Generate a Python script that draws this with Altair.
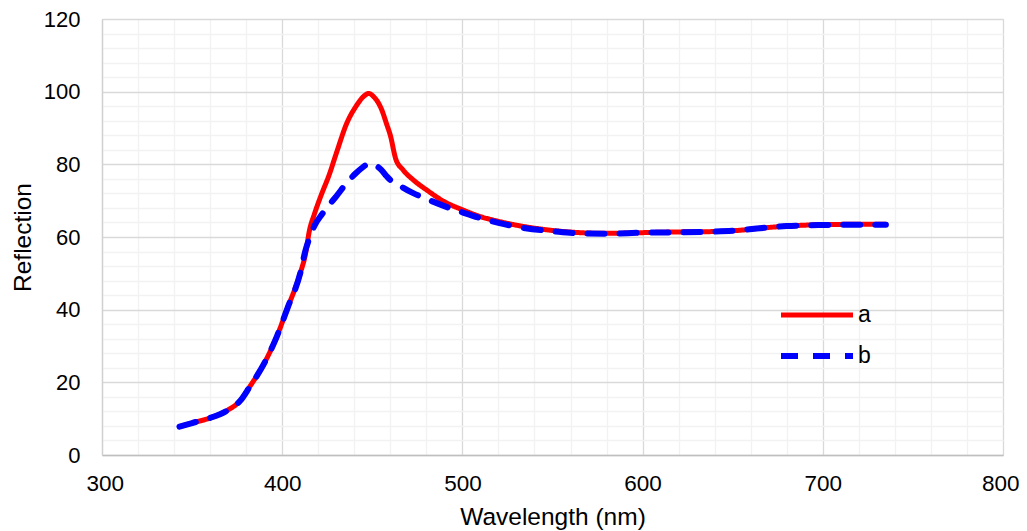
import altair as alt
import pandas as pd

wavelength = [343, 350, 360, 370, 377, 382, 390, 397, 403, 410,
              413, 415, 418, 422, 426, 430, 436, 441, 445, 448,
              451, 455, 458, 460, 463, 467, 473, 480, 490, 500,
              510, 520, 535, 550, 565, 580, 600, 620, 640, 655,
              665, 680, 700, 720, 735]
series_a = [7.8, 8.8, 10.2, 12.4, 15.1, 18.8, 25.2, 32.6, 40.5, 50,
            55.5, 61.5, 66.5, 72, 77, 83, 91.5, 96, 98.6, 99.5,
            98.5, 95.3, 91, 88, 81.5, 78.5, 75.6, 73, 69.7, 67.5,
            65.6, 64.3, 62.8, 61.8, 61.2, 61.0, 61.2, 61.4, 61.5, 61.9,
            62.4, 63.0, 63.4, 63.5, 63.5]
series_b = [7.8, 8.8, 10.2, 12.4, 15.1, 18.8, 25.2, 32.6, 40.5, 50,
            56.5, 59.5, 63.2, 66.2, 68.8, 71.2, 75, 77.6, 79.3, 80.2,
            79.9, 78.5, 76.7, 75.7, 74.9, 73.6, 72, 70.5, 68.5, 66.8,
            65.2, 63.9, 62.4, 61.6, 61.0, 60.9, 61.2, 61.3, 61.5, 61.9,
            62.4, 63.0, 63.3, 63.4, 63.4]
series_names = ["a", "b"]
series_colors = ["#ff0000", "#0000ff"]

rows = []
for name, vals in zip(series_names, [series_a, series_b]):
    for w, v in zip(wavelength, vals):
        rows.append({"wavelength": w, "reflection": v, "series": name})
df = pd.DataFrame(rows)

FONT = "Liberation Sans"

x_axis = alt.Axis(
    values=list(range(300, 801, 20)),
    labelExpr="datum.value % 100 === 0 ? datum.label : ''",
    gridColor={"condition": {"test": "datum.value % 100 === 0", "value": "#d9d9d9"}, "value": "#f2f2f2"},
    gridWidth=1.3,
    ticks=False, tickSize=0,
    labelFlush=True, labelFlushOffset=16, labelOverlap=False, labelBound=False,
    labelFontSize=22.5, labelFont=FONT, labelColor="#000000", labelPadding=17,
    titleFontSize=24.5, titleFont=FONT, titleColor="#000000", titleFontWeight="normal", titlePadding=11,
    domainColor="#bfbfbf", domainWidth=1.5,
)
y_axis = alt.Axis(
    values=list(range(0, 121, 4)),
    labelExpr="datum.value % 20 === 0 ? datum.label : ''",
    gridColor={"condition": {"test": "datum.value % 20 === 0", "value": "#d9d9d9"}, "value": "#f2f2f2"},
    gridWidth=1.3,
    ticks=False, tickSize=0,
    labelFlush=False, labelOverlap=False,
    labelFontSize=22, labelFont=FONT, labelColor="#000000", labelPadding=22,
    titleFontSize=24.5, titleFont=FONT, titleColor="#000000", titleFontWeight="normal", titlePadding=8,
    domainColor="#d0d0d0", domainWidth=1.3,
)

legend = alt.Legend(
    title=None, orient="none", legendX=676, legendY=282, direction="vertical",
    symbolSize=5184, symbolStrokeWidth=5.5, labelFontSize=23, labelFont=FONT,
    labelColor="#000000", labelOffset=2, clipHeight=28, rowPadding=13, padding=0,
)

chart = alt.Chart(df).mark_line(
    interpolate="monotone", strokeCap="round", strokeJoin="round"
).encode(
    x=alt.X("wavelength:Q", scale=alt.Scale(domain=[300, 800], nice=False, zero=False),
            axis=x_axis, title="Wavelength (nm)"),
    y=alt.Y("reflection:Q", scale=alt.Scale(domain=[0, 120], nice=False),
            axis=y_axis, title="Reflection"),
    color=alt.Color("series:N", scale=alt.Scale(domain=series_names, range=series_colors), legend=legend),
    strokeDash=alt.StrokeDash("series:N", scale=alt.Scale(domain=series_names, range=[[1, 0], [17, 15]]), legend=legend),
    strokeWidth=alt.StrokeWidth("series:N", scale=alt.Scale(domain=series_names, range=[5, 6]), legend=None),
).properties(
    width=901, height=436,
    autosize=alt.AutoSizeParams(type="none"),
    padding={"left": 94, "top": 11, "right": 16, "bottom": 76},
).configure_view(stroke=None).configure(background="white")

chart.save("out.html", embed_options={"renderer": "svg", "actions": False})
